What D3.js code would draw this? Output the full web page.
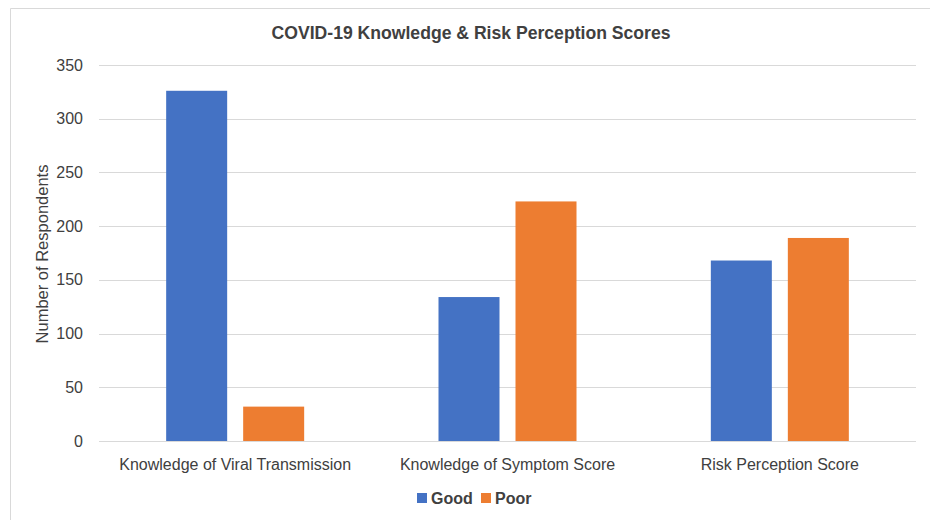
<!DOCTYPE html>
<html><head><meta charset="utf-8">
<script src="https://cdn.jsdelivr.net/npm/d3@7/dist/d3.min.js"></script>
<style>
body{margin:0;background:#fff;}
svg{display:block;font-family:"Liberation Sans",Arial,sans-serif;}
</style></head><body>
<svg id="c" width="930" height="520"></svg>
<script>
const categories = ["Knowledge of Viral Transmission","Knowledge of Symptom Score","Risk Perception Score"];
const seriesNames = ["Good","Poor"];
const goodValues = [326,134,168];
const poorValues = [32,223,189];
const yTicks = [0,50,100,150,200,250,300,350];
const colors = ["#4472C4","#ED7D31"];

const svg = d3.select("#c");
const W=930,H=520;
const m={left:99,right:14,top:65,bottom:79};
const x0=d3.scaleBand().domain(categories).range([m.left,W-m.right]).paddingInner(0).paddingOuter(0);
const y=d3.scaleLinear().domain([0,350]).range([H-m.bottom,m.top]);
const x1=d3.scaleBand().domain(seriesNames).range([0,138]).paddingInner(16/77).paddingOuter(0);

// frame
svg.append("path").attr("d","M10.5,520 L10.5,8.5 L930,8.5").attr("fill","none").attr("stroke","#d9d9d9").attr("stroke-width",1);

// grid
svg.append("g").selectAll("line").data(yTicks).join("line")
 .attr("x1",m.left).attr("x2",W-m.right)
 .attr("y1",d=>Math.round(y(d))+0.5).attr("y2",d=>Math.round(y(d))+0.5)
 .attr("stroke","#d9d9d9").attr("stroke-width",1);

// y axis labels
const yAxis=d3.axisLeft(y).tickValues(yTicks).tickSize(0).tickPadding(0);
const ga=svg.append("g").attr("transform",`translate(83,0)`).call(yAxis);
ga.select(".domain").remove();
ga.selectAll("text").attr("font-size",16).attr("fill","#404040").attr("font-family","Liberation Sans, Arial, sans-serif");

// bars
const data=categories.map((c,i)=>({cat:c,vals:[{s:"Good",v:goodValues[i]},{s:"Poor",v:poorValues[i]}]}));
const g=svg.append("g").selectAll("g").data(data).join("g")
 .attr("transform",d=>`translate(${x0(d.cat)+x0.bandwidth()/2-69},0)`);
g.selectAll("rect").data(d=>d.vals).join("rect")
 .attr("x",d=>x1(d.s)).attr("width",x1.bandwidth())
 .attr("y",d=>y(d.v)).attr("height",d=>y(0)-y(d.v))
 .attr("fill",(d,i)=>colors[i]);

// x labels
const xAxis=d3.axisBottom(x0).tickSize(0).tickPadding(0);
const gx=svg.append("g").attr("transform",`translate(0,${y(0)+18})`).call(xAxis);
gx.select(".domain").remove();
gx.selectAll("text").attr("font-size",16).attr("fill","#404040").attr("dy","0.71em").attr("font-family","Liberation Sans, Arial, sans-serif");

// title
svg.append("text").attr("x",471).attr("y",39).attr("text-anchor","middle")
 .attr("font-size",17.6).attr("font-weight","bold").attr("fill","#404040").text("COVID-19 Knowledge & Risk Perception Scores");

// y title
svg.append("text").attr("transform","translate(48,254) rotate(-90)").attr("text-anchor","middle")
 .attr("font-size",16.5).attr("fill","#404040").text("Number of Respondents");

// legend
const leg=svg.append("g").attr("transform","translate(417,498)");
const li=leg.selectAll("g").data(seriesNames).join("g").attr("transform",(d,i)=>`translate(${i*64},0)`);
li.append("rect").attr("x",0).attr("y",-5).attr("width",10).attr("height",10).attr("fill",(d,i)=>colors[i]);
li.append("text").attr("x",14).attr("y",0).attr("dy","0.35em").attr("font-size",16).attr("font-weight","bold").attr("fill","#404040").text(d=>d);
</script>
</body></html>
